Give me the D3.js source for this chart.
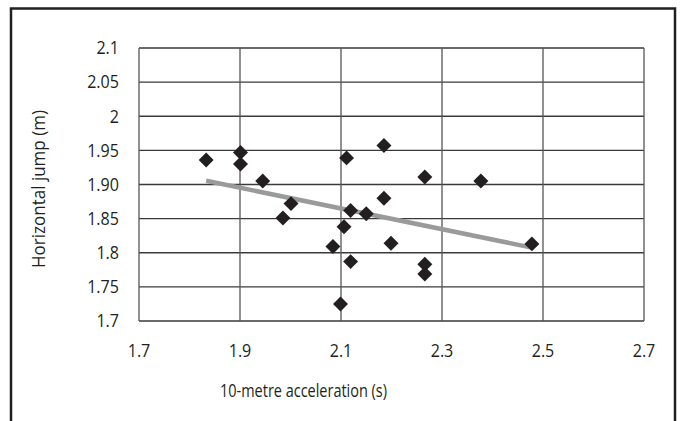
<!DOCTYPE html>
<html>
<head>
<meta charset="utf-8">
<script src="https://cdn.jsdelivr.net/npm/d3@7.9.0/dist/d3.min.js"></script>
<style>
  body { margin: 0; background: #fff; }
  text { font-family: "Open Sans", sans-serif; fill: #231f20; }
</style>
</head>
<body>
<svg id="chart" width="682" height="421"></svg>
<script>
// acceleration over 10 m (s) and horizontal jump (m)
const accel = [1.833, 1.901, 1.901, 1.945, 2.001, 1.985, 2.111, 2.119, 2.150, 2.106, 2.185,
               2.185, 2.199, 2.084, 2.119, 2.099, 2.266, 2.377, 2.266, 2.266, 2.478];
const jump  = [1.936, 1.947, 1.930, 1.905, 1.872, 1.851, 1.939, 1.862, 1.857, 1.838, 1.957,
               1.880, 1.814, 1.809, 1.787, 1.725, 1.911, 1.905, 1.783, 1.769, 1.813];

const xTicks = [1.7, 1.9, 2.1, 2.3, 2.5, 2.7];
const xTickLabels = ['1.7', '1.9', '2.1', '2.3', '2.5', '2.7'];
const yTicks = [1.7, 1.75, 1.8, 1.85, 1.9, 1.95, 2.0, 2.05, 2.1];
const yTickLabels = ['1.7', '1.75', '1.8', '1.85', '1.90', '1.95', '2', '2.05', '2.1'];

const svg = d3.select('#chart');
const plotL = 139, plotR = 644, plotT = 48, plotB = 321;

const x = d3.scaleLinear().domain([1.7, 2.7]).range([plotL, plotR]);
const y = d3.scaleLinear().domain([1.7, 2.1]).range([plotB, plotT]);

// outer frame (bottom edge is cut off by the picture)
svg.append('path')
  .attr('d', 'M11,421 V8.5 H675 V421')
  .attr('fill', 'none')
  .attr('stroke', '#231f20')
  .attr('stroke-width', 2.5);

// grid lines
svg.append('g').selectAll('line')
  .data(yTicks).enter().append('line')
    .attr('x1', plotL).attr('x2', plotR)
    .attr('y1', d => y(d)).attr('y2', d => y(d))
    .attr('stroke', '#3a3a3a').attr('stroke-width', 1.3);

svg.append('g').selectAll('line')
  .data(xTicks).enter().append('line')
    .attr('x1', d => x(d)).attr('x2', d => x(d))
    .attr('y1', plotT).attr('y2', plotB)
    .attr('stroke', '#555').attr('stroke-width', 1.3);

// tick labels (slightly condensed, like the original face)
svg.append('g').selectAll('text')
  .data(yTicks).enter().append('text')
    .attr('transform', d => `translate(119,${y(d) + 6.3}) scale(0.92,1)`)
    .attr('text-anchor', 'end')
    .style('font-size', '17.5px')
    .text((d, i) => yTickLabels[i]);

svg.append('g').selectAll('text')
  .data(xTicks).enter().append('text')
    .attr('transform', d => `translate(${x(d)},357) scale(0.92,1)`)
    .attr('text-anchor', 'middle')
    .style('font-size', '17.5px')
    .text((d, i) => xTickLabels[i]);

// axis titles
svg.append('text')
  .attr('x', 220).attr('y', 397)
  .attr('textLength', 167).attr('lengthAdjust', 'spacingAndGlyphs')
  .style('font-size', '17.5px')
  .text('10-metre acceleration (s)');

svg.append('text')
  .attr('transform', 'translate(45,268) rotate(-90)')
  .attr('textLength', 158).attr('lengthAdjust', 'spacingAndGlyphs')
  .style('font-size', '17.5px')
  .text('Horizontal jump (m)');

// linear trend line (least squares), from smallest to largest x
const mx = d3.mean(accel), my = d3.mean(jump);
const slope = d3.sum(accel, (a, i) => (a - mx) * (jump[i] - my)) / d3.sum(accel, a => (a - mx) ** 2);
const xr = d3.extent(accel);
svg.append('line')
  .attr('x1', x(xr[0])).attr('y1', y(my + slope * (xr[0] - mx)))
  .attr('x2', x(xr[1])).attr('y2', y(my + slope * (xr[1] - mx)))
  .attr('stroke', '#999a9c').attr('stroke-width', 4.5);

// diamond markers
const diamond = d3.symbol().type(d3.symbolSquare).size(112);
svg.append('g').selectAll('path')
  .data(accel).enter().append('path')
    .attr('d', diamond)
    .attr('transform', (d, i) => `translate(${x(d)},${y(jump[i])}) rotate(45)`)
    .attr('fill', '#231f20');
</script>
</body>
</html>
